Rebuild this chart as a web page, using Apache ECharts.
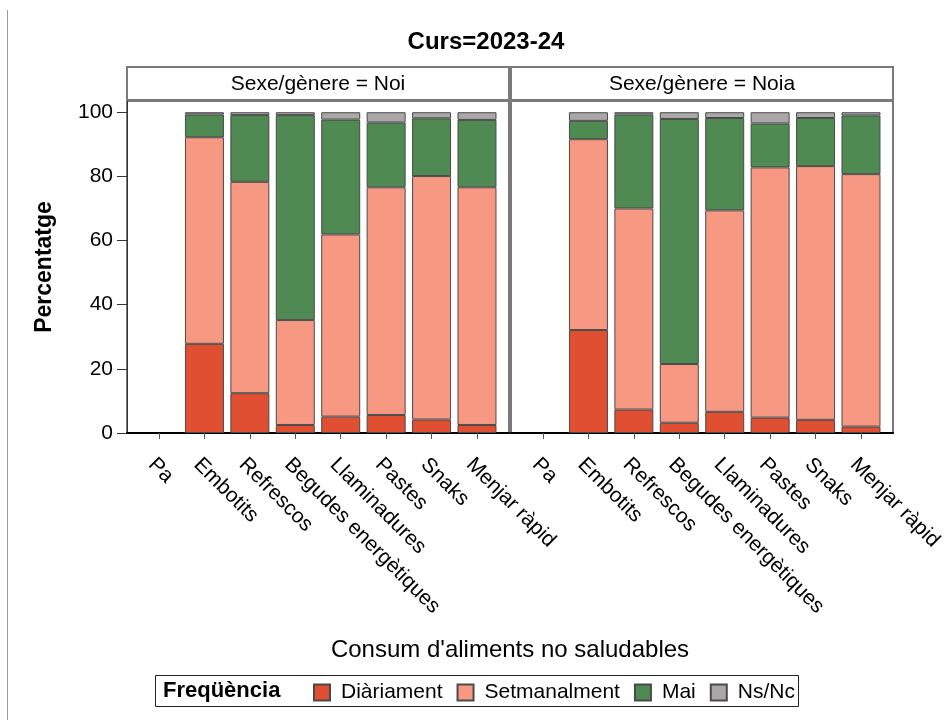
<!DOCTYPE html>
<html>
<head>
<meta charset="utf-8">
<title>Curs=2023-24</title>
<script src="https://cdn.jsdelivr.net/npm/echarts@6/dist/echarts.min.js"></script>
<style>
  html, body { margin: 0; padding: 0; background: #fff; }
  #chart { width: 952px; height: 720px; }
</style>
</head>
<body>
<div id="chart"></div>
<script>
// Food categories shown along each panel's x axis
const categories = ['Pa', 'Embotits', 'Refrescos', 'Begudes energètiques', 'Llaminadures', 'Pastes', 'Snaks', 'Menjar ràpid'];
const levels = ['Diàriament', 'Setmanalment', 'Mai', 'Ns/Nc'];
const panels = ['Sexe/gènere = Noi', 'Sexe/gènere = Noia'];
const yTicks = [0, 20, 40, 60, 80, 100];

// Percentages per frequency level (Pa has no responses)
const noiDiariament   = [null, 27.8, 12.4, 2.5, 5.1, 5.6, 4.2, 2.5];
const noiSetmanalment = [null, 64.4, 65.9, 32.7, 56.8, 71.0, 75.9, 74.1];
const noiMai          = [null, 7.1, 20.8, 63.9, 35.8, 20.2, 18.0, 21.0];
const noiNsNc         = [null, 0.7, 0.9, 0.9, 2.3, 3.2, 1.9, 2.4];

const noiaDiariament   = [null, 32.1, 7.3, 3.2, 6.6, 4.8, 4.1, 2.0];
const noiaSetmanalment = [null, 59.5, 62.7, 18.3, 62.8, 78.0, 79.1, 78.7];
const noiaMai          = [null, 5.7, 29.3, 76.4, 28.8, 13.7, 15.0, 18.3];
const noiaNsNc         = [null, 2.7, 0.7, 2.1, 1.8, 3.5, 1.8, 1.0];

const panelData = [
  [noiDiariament, noiSetmanalment, noiMai, noiNsNc],
  [noiaDiariament, noiaSetmanalment, noiaMai, noiaNsNc]
];

const colors = ['#E14F32', '#F79882', '#4E8A51', '#ABA7A7'];
const FONT = '"Liberation Sans", Arial, sans-serif';

// Panel geometry
const panelLeft = [127, 511];
const panelWidth = 382;
const plotTop = 101;
const plotBottom = 433;
const headerTop = 67;

const chart = echarts.init(document.getElementById('chart'), null, { renderer: 'canvas' });

const grids = panelLeft.map(l => ({
  left: l,
  top: plotTop,
  width: panelWidth,
  height: plotBottom - plotTop,
  show: true,
  borderColor: '#7a7a7a',
  borderWidth: 2,
  containLabel: false
}));

const catIndex = categories.map((c, i) => i);

const xAxes = panelLeft.map((l, p) => ({
  type: 'value',
  gridIndex: p,
  min: -0.705,
  max: categories.length - 1 + 0.705,
  splitLine: { show: false },
  axisLine: { show: true, onZero: false, lineStyle: { color: '#000', width: 2 } },
  axisTick: {
    show: true, length: 6, inside: false,
    customValues: catIndex,
    lineStyle: { color: '#555', width: 1 }
  },
  axisLabel: {
    show: true,
    customValues: catIndex,
    formatter: v => categories[Math.round(v)],
    rotate: -45,
    margin: 21,
    verticalAlign: 'top',
    fontSize: 21,
    fontFamily: FONT,
    color: '#000'
  }
}));

const yAxes = panelLeft.map((l, p) => ({
  type: 'value',
  gridIndex: p,
  min: 0,
  max: 103.5,
  splitLine: { show: false },
  axisLine: { show: p === 0, onZero: false, lineStyle: { color: '#333', width: 1 } },
  axisTick: {
    show: p === 0, length: 10, inside: false,
    customValues: yTicks,
    lineStyle: { color: '#333', width: 1 }
  },
  axisLabel: {
    show: p === 0,
    customValues: yTicks,
    margin: 14,
    fontSize: 21,
    fontFamily: FONT,
    color: '#000'
  },
  name: p === 0 ? 'Percentatge' : '',
  nameLocation: 'middle',
  nameGap: 71,
  nameRotate: 90,
  nameTextStyle: { fontSize: 23, fontWeight: 'bold', fontFamily: FONT, color: '#000' }
}));

// Each row is [percentage, category index]; y reads column 0 so the stack runs on it
const series = [];
panelData.forEach((levelsData, p) => {
  levelsData.forEach((vals, k) => {
    series.push({
      type: 'bar',
      name: levels[k],
      xAxisIndex: p,
      yAxisIndex: p,
      stack: 'panel' + p,
      barWidth: 39,
      encode: { x: 1, y: 0 },
      itemStyle: { color: colors[k], borderColor: '#4a4a4a', borderWidth: 1 },
      emphasis: { disabled: true },
      data: vals.map((v, i) => [v, i])
    });
  });
});

// Panel headers, frame line and text elements
const graphics = [
  { type: 'line', shape: { x1: 7.5, y1: 10, x2: 7.5, y2: 720 }, style: { stroke: '#9a9a9a', lineWidth: 1 } }
];
panelLeft.forEach((l, p) => {
  graphics.push({
    type: 'rect',
    shape: { x: l, y: headerTop, width: panelWidth, height: plotTop - headerTop - 1 },
    style: { fill: '#fff', stroke: '#7a7a7a', lineWidth: 2 },
    z: 10
  });
  graphics.push({
    type: 'text',
    x: l + panelWidth / 2,
    y: (headerTop + plotTop) / 2,
    style: {
      text: panels[p], fontSize: 21, fontFamily: FONT, fill: '#000',
      align: 'center', verticalAlign: 'middle'
    },
    z: 11
  });
});
graphics.push({
  type: 'text', x: 486, y: 42,
  style: { text: 'Curs=2023-24', fontSize: 24, fontWeight: 'bold', fontFamily: FONT, fill: '#000', align: 'center', verticalAlign: 'middle' }
});
graphics.push({
  type: 'text', x: 510, y: 650,
  style: { text: "Consum d'aliments no saludables", fontSize: 24, fontFamily: FONT, fill: '#000', align: 'center', verticalAlign: 'middle' }
});
graphics.push({
  type: 'rect', shape: { x: 155.5, y: 675.5, width: 643, height: 31 },
  style: { fill: 'none', stroke: '#222', lineWidth: 1 }
});
graphics.push({
  type: 'text', x: 163, y: 691,
  style: { text: 'Freqüència', fontSize: 22, fontWeight: 'bold', fontFamily: FONT, fill: '#000', align: 'left', verticalAlign: 'middle' }
});

chart.setOption({
  animation: false,
  backgroundColor: '#fff',
  textStyle: { fontFamily: FONT },
  grid: grids,
  xAxis: xAxes,
  yAxis: yAxes,
  legend: {
    data: levels,
    left: 313,
    top: 682,
    icon: 'rect',
    itemWidth: 16,
    itemHeight: 16,
    itemGap: 14,
    padding: 0,
    selectedMode: false,
    textStyle: { fontSize: 21, fontFamily: FONT, color: '#000', padding: [0, 0, 0, 6] }
  },
  graphic: graphics,
  series: series
});
</script>
</body>
</html>
